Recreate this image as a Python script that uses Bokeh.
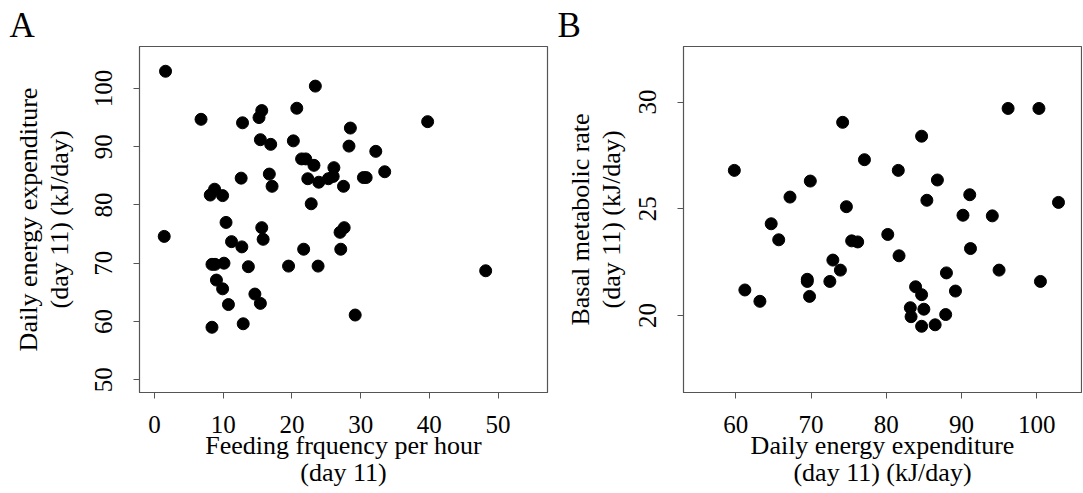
from bokeh.plotting import figure
from bokeh.layouts import row
from bokeh.models import FixedTicker
from bokeh.embed import file_html
from bokeh.resources import INLINE

# Panel A: feeding frequency vs daily energy expenditure
feed_freq = [1.59, 23.4, 15.6, 15.2, 20.7, 6.76, 12.8, 39.75, 28.5, 15.4, 16.9, 20.2,
             28.3, 32.2, 21.4, 22.0, 23.2, 26.1, 26.0, 25.3, 23.9, 22.3, 27.5, 30.4,
             30.8, 33.5, 16.7, 17.1, 12.6, 8.73, 8.10, 9.9, 22.8, 10.4, 15.6, 27.6,
             27.0, 1.4, 11.2, 12.7, 15.8, 21.7, 27.1, 8.35, 8.8, 10.1, 13.65, 19.5,
             23.8, 48.2, 9.0, 9.9, 14.6, 15.4, 10.75, 29.2, 12.9, 8.35]
dee_a = [102.95, 100.4, 96.2, 95.0, 96.6, 94.7, 94.1, 94.3, 93.2, 91.2, 90.4, 91.0,
         90.1, 89.2, 87.9, 87.9, 86.8, 86.4, 84.9, 84.5, 83.9, 84.5, 83.2, 84.7,
         84.7, 85.7, 85.3, 83.2, 84.6, 82.7, 81.7, 81.6, 80.2, 77.0, 76.1, 76.1,
         75.3, 74.6, 73.7, 72.8, 74.1, 72.4, 72.4, 69.8, 69.8, 70.0, 69.4, 69.5,
         69.5, 68.7, 67.1, 65.6, 64.7, 63.1, 62.9, 61.1, 59.6, 59.0]

# Panel B: daily energy expenditure vs basal metabolic rate
dee_b = [59.8, 74.2, 84.7, 96.2, 100.3, 77.1, 81.6, 86.8, 69.9, 67.2, 74.7, 85.4,
         91.1, 102.9, 90.2, 94.1, 64.7, 65.7, 75.4, 76.2, 80.2, 81.7, 91.2, 95.0,
         100.5, 72.9, 73.9, 69.5, 69.5, 72.5, 69.8, 61.2, 63.2, 88.0, 89.2, 83.9,
         84.7, 83.2, 85.0, 83.3, 87.9, 84.7, 86.5]
bmr = [26.8, 29.05, 28.4, 29.7, 29.7, 27.3, 26.8, 26.35, 26.3, 25.55, 25.1, 25.4,
       25.66, 25.3, 24.7, 24.67, 24.3, 23.55, 23.5, 23.45, 23.8, 22.8, 23.14, 22.13,
       21.6, 22.6, 22.13, 21.7, 21.6, 21.6, 20.9, 21.2, 20.67, 22.0, 21.15, 21.35,
       20.98, 20.37, 20.3, 19.95, 20.05, 19.5, 19.57]

ticks_ax = [0, 10, 20, 30, 40, 50]
ticks_ay = [50, 60, 70, 80, 90, 100]
ticks_bx = [60, 70, 80, 90, 100]
ticks_by = [20, 25, 30]

FONT = "Liberation Serif"
FS = "25px"
LFS = "26px"
FRAME = "#555555"


def style(p, xt, yt, xlab, ylab, letter, letter_offset, ylab_standoff):
    p.xgrid.visible = False
    p.ygrid.visible = False
    p.outline_line_color = FRAME
    p.outline_line_width = 1.2
    p.xaxis.ticker = FixedTicker(ticks=xt)
    p.yaxis.ticker = FixedTicker(ticks=yt)
    p.xaxis.axis_label = xlab
    p.yaxis.axis_label = ylab
    for ax in (p.xaxis, p.yaxis):
        ax.axis_line_color = FRAME
        ax.major_tick_line_color = FRAME
        ax.major_tick_out = 6
        ax.major_tick_in = 0
        ax.minor_tick_line_color = None
        ax.major_label_text_font = FONT
        ax.major_label_text_font_size = FS
        ax.major_label_text_color = "black"
        ax.axis_label_text_font = FONT
        ax.axis_label_text_font_size = LFS
        ax.axis_label_text_font_style = "normal"
        ax.axis_label_text_color = "black"
    p.xaxis.axis_label_text_line_height = 0.95
    p.yaxis.axis_label_text_line_height = 1.06
    p.yaxis.major_label_orientation = "vertical"
    p.xaxis.major_label_standoff = 17
    p.yaxis.major_label_standoff = 21
    p.xaxis.axis_label_standoff = -5
    p.yaxis.axis_label_standoff = ylab_standoff
    p.title.text = letter
    p.title.align = "left"
    p.title.offset = letter_offset
    p.title.standoff = 3
    p.title.text_font = FONT
    p.title.text_font_size = "35px"
    p.title.text_font_style = "normal"
    p.title.text_color = "black"


pa = figure(width=553, height=490, x_range=(-2.2, 57.2), y_range=(47.8, 107.2),
            output_backend="svg", toolbar_location=None,
            min_border_left=139, min_border_right=6, min_border_top=46, min_border_bottom=97)
style(pa, ticks_ax, ticks_ay, "Feeding frquency per hour\n(day 11)",
      "Daily energy expenditure\n(day 11) (kJ/day)", "A", -130, 19)
pa.scatter(feed_freq, dee_a, size=12, color="black")

pb = figure(width=529, height=490, x_range=(53.04, 105.96), y_range=(16.4, 32.6),
            output_backend="svg", toolbar_location=None,
            min_border_left=130, min_border_right=1, min_border_top=46, min_border_bottom=97)
style(pb, ticks_bx, ticks_by, "Daily energy expenditure\n(day 11) (kJ/day)",
      "Basal metabolic rate\n(day 11) (kJ/day)", "B", -126, 11)
pb.scatter(dee_b, bmr, size=12, color="black")

layout = row(pa, pb)
open("out.html", "w").write(file_html(layout, INLINE))
